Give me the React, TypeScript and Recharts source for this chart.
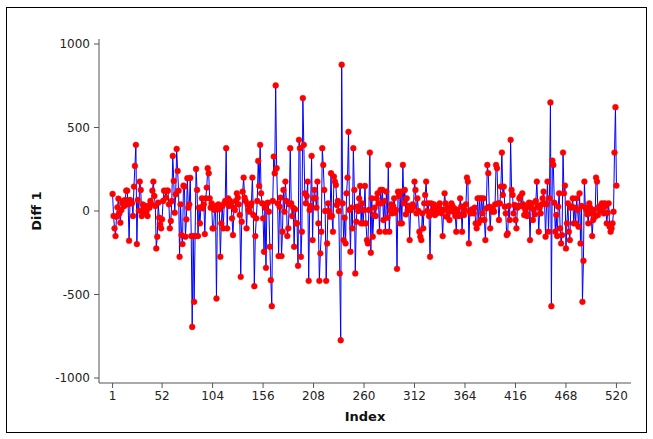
import { LineChart, Line, XAxis, YAxis, Label } from 'recharts'

// first differences of the series, one value per index
const DIFF_1 = [
  102, -30, -104, -150, -34, 22, 74, -14, -70, 6,
  46, 60, 30, 66, 122, 122, 40, -178, 66, 50,
  46, -30, 146, 270, 396, -198, 66, 2, 176, 126,
  -30, 40, 20, -10, 30, 0, -30, 30, 20, 60,
  40, 122, 176, 90, 30, -224, -154, 50, -40, -80,
  -104, -50, 60, 122, 120, 80, 122, 122, 40, -104,
  -60, 60, 330, 180, -10, 100, 372, 240, 122, -274,
  40, -144, -198, 152, 146, -154, -50, 196, 20, 40,
  198, -150, -694, -150, -544, -150, 252, 126, -150, 20,
  -74, 20, 76, 16, 40, -138, 76, 140, 256, 226,
  76, 20, 46, -104, -104, 6, 30, -524, 26, 40,
  10, -274, -74, 30, -104, 46, 60, 376, -104, 76,
  30, 60, 46, -44, -144, 20, 6, 60, 106, 80,
  40, -24, -394, -64, 116, 200, 80, 60, -104, 40,
  6, -4, 30, 46, 200, -24, -450, -150, -44, 60,
  300, 150, 396, 106, 46, -44, -244, 20, -340, 46,
  50, -4, -214, -414, -570, 60, 326, 226, 752, 256,
  46, -270, 26, 80, -270, -124, 126, -4, 176, 60,
  -150, -104, 40, 376, 46, -30, 20, -214, 10, -74,
  -74, -328, 426, 376, -274, -124, 676, 396, 106, 46,
  90, 176, -418, 6, 30, 330, -174, 76, 126, 76,
  20, 176, -74, -418, -254, -124, 376, 276, 126, 0,
  -418, -194, 46, 0, -34, 226, -30, -124, 206, 176,
  156, 36, 60, 0, -374, -774, 876, 46, -174, -40,
  -194, 106, 200, 474, 6, -244, 20, -104, 376, 126,
  -374, -64, 26, 0, 76, 150, -74, 46, -74, 6,
  150, -74, -174, -194, 6, 350, -250, 76, -154, -24,
  20, -30, 76, 106, 46, -124, 126, 46, 126, -54,
  60, -124, 116, -40, 276, -124, 6, 40, -14, 30,
  76, -10, 6, -346, 116, 90, -74, 116, -74, 276,
  46, 126, -20, 76, 6, 30, -174, 6, 6, 40,
  26, 176, 126, -14, 76, 0, -124, -154, -174, -14,
  -104, 46, 96, 176, 0, 46, -30, -274, 46, -14,
  6, 40, -24, 20, -14, -4, 30, 46, 10, -14,
  -150, 6, 106, 46, -34, 20, -4, -54, 10, 46,
  30, -4, 16, -30, -124, 6, -14, -30, 76, 26,
  -124, 26, -24, 6, 40, 200, 176, -194, -4, -14,
  10, -4, -14, 20, -74, -104, 76, -74, 76, -54,
  76, -14, 76, -54, -174, 16, 276, 226, 26, -104,
  20, -4, 10, -4, 40, 276, 256, 46, -54, 46,
  146, 350, 96, 146, 26, -14, -144, -134, 30, -54,
  426, 126, 96, -14, 36, -54, -104, 20, 30, 76,
  86, 30, 106, 40, -24, 10, -14, -30, 26, 50,
  -174, 20, 46, -54, 10, -20, 60, 176, 30, -124,
  20, -14, 40, 76, 116, 46, -154, 40, 176, -124,
  76, 650, -570, 302, 276, 50, -124, -24, -150, 26,
  106, -104, -194, -144, 350, 106, 152, -224, -74, 46,
  -124, -174, 20, 26, 76, -74, 20, -74, 76, 6,
  -94, 106, -194, 30, -544, -298, 176, 20, 6, -20,
  -74, 46, 20, -14, -150, -54, 6, -34, 200, 176,
  -24, 26, 10, 6, 46, 20, -14, 46, 30, -74,
  -10, 46, -94, -124, -104, -74, -4, 350, 622, 152,
]

const INDEX_TICKS = [1, 52, 104, 156, 208, 260, 312, 364, 416, 468, 520]
const DIFF_TICKS = [-1000, -500, 0, 500, 1000]

const data = DIFF_1.map((value, k) => ({ index: k + 1, diff: value }))

const FONT = 'DejaVu Sans, Verdana, sans-serif'
const tickStyle = { fontFamily: FONT, fontSize: 12, fill: '#222' }
const frame = '#555'

function YTitle({ viewBox }: any) {
  const cx = viewBox.x + 36
  const cy = viewBox.y + viewBox.height / 2
  return (
    <text x={cx} y={cy} transform={`rotate(-90 ${cx} ${cy})`} textAnchor="middle" dominantBaseline="central"
      style={{ fontFamily: FONT, fontSize: 13, fontWeight: 'bold', fill: '#111' }}>
      Diff 1
    </text>
  )
}

function XTitle({ viewBox }: any) {
  return (
    <text x={viewBox.x + viewBox.width / 2} y={viewBox.y + 33} textAnchor="middle" dominantBaseline="central"
      style={{ fontFamily: FONT, fontSize: 13, fontWeight: 'bold', fill: '#111' }}>
      Index
    </text>
  )
}

export default function App() {
  return (
    <div style={{ position: 'absolute', left: 0, top: 0, width: 653, height: 439, background: '#fff' }}>
      <div style={{ position: 'absolute', left: 6, top: 7, width: 639, height: 424, border: '1px solid #000' }} />
      <div style={{ position: 'absolute', left: 0, top: 0 }}>
        <LineChart width={653} height={439} data={data} margin={{ top: 39, right: 22, bottom: 0, left: 0 }}>
          <XAxis
            dataKey="index"
            type="number"
            domain={[-13, 535]}
            ticks={INDEX_TICKS}
            allowDataOverflow
            height={56}
            tickSize={5}
            tickMargin={3}
            stroke={frame}
            tick={tickStyle}
          >
            <Label content={<XTitle />} />
          </XAxis>
          <YAxis
            type="number"
            domain={[-1030, 1030]}
            ticks={DIFF_TICKS}
            allowDataOverflow
            width={99}
            tickSize={5}
            tickMargin={4}
            stroke={frame}
            tick={tickStyle}
          >
            <Label content={<YTitle />} />
          </YAxis>
          <XAxis xAxisId="top" orientation="top" type="number" domain={[0, 1]} height={0} tick={false} tickLine={false} stroke={frame} />
          <YAxis yAxisId="right" orientation="right" type="number" domain={[0, 1]} width={0} tick={false} tickLine={false} stroke={frame} />
          <Line
            type="linear"
            dataKey="diff"
            stroke="#0000ff"
            strokeWidth={1}
            dot={{ r: 2.9, fill: '#ff0000', stroke: '#ff0000', strokeWidth: 0.5 }}
            isAnimationActive={false}
          />
        </LineChart>
      </div>
    </div>
  )
}
